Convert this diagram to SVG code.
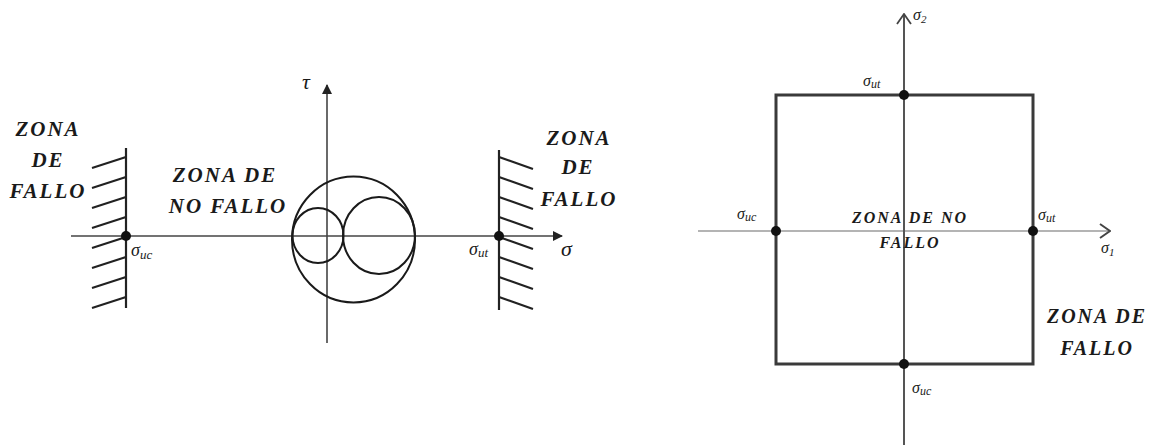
<svg xmlns="http://www.w3.org/2000/svg" width="1159" height="446" viewBox="0 0 1159 446">
<style>
.zone{font-family:"Liberation Serif",serif;font-style:italic;font-weight:bold;fill:#1a1a1a;text-anchor:middle;letter-spacing:2px}
.sym{font-family:"Liberation Serif",serif;font-style:italic;fill:#1a1a1a}
.ax{stroke:#444;stroke-width:1.6;fill:none}
.wall{stroke:#222;stroke-width:2.2;fill:none}
.circ{stroke:#1a1a1a;stroke-width:2;fill:none}
.rect{stroke:#3a3a3a;stroke-width:3;fill:none}
.dot{fill:#111}
</style>
<defs>
<marker id="fa" viewBox="0 0 10 10" refX="9" refY="5" markerWidth="10" markerHeight="10" markerUnits="userSpaceOnUse" orient="auto"><path d="M0,0 L10,5 L0,10 Z" fill="#222"/></marker>
<marker id="oa" viewBox="0 0 12 16" refX="11" refY="8" markerWidth="12" markerHeight="16" markerUnits="userSpaceOnUse" orient="auto"><path d="M1,1 L11,8 L1,15" fill="none" stroke="#444" stroke-width="1.8"/></marker>
<marker id="ob" viewBox="0 0 12 16" refX="11" refY="8" markerWidth="12" markerHeight="16" markerUnits="userSpaceOnUse" orient="auto"><path d="M1,1 L11,8 L1,15" fill="none" stroke="#444" stroke-width="2"/></marker>
</defs>

<g id="connectors">
<line class="ax" x1="71" y1="236" x2="562" y2="236" marker-end="url(#fa)"/>
<line class="ax" x1="327" y1="343" x2="327" y2="85" marker-end="url(#fa)"/>
<line x1="698" y1="231" x2="1110" y2="231" stroke="#b4b4b4" stroke-width="2" marker-end="url(#ob)"/>
<line x1="904" y1="445" x2="904" y2="14" stroke="#555" stroke-width="2" marker-end="url(#oa)"/>
</g>

<g id="left-wall">
<line class="wall" x1="126" y1="148" x2="126" y2="308"/>
<path class="wall" d="M92,168 L126,157 M92,188 L126,177 M92,208 L126,197 M92,228 L126,217 M92,248 L126,237 M92,268 L126,257 M92,288 L126,277 M92,308 L126,297"/>
<circle class="dot" cx="126" cy="236" r="5"/>
<text class="sym" x="131" y="256" font-size="18">σ<tspan font-size="13" dy="3">uc</tspan></text>
</g>

<g id="right-wall">
<line class="wall" x1="499" y1="150" x2="499" y2="310"/>
<path class="wall" d="M499,157 L533,169 M499,177 L533,189 M499,197 L533,209 M499,217 L533,229 M499,237 L533,249 M499,257 L533,269 M499,277 L533,289 M499,297 L533,309"/>
<circle class="dot" cx="499" cy="236" r="5"/>
<text class="sym" x="469" y="255" font-size="18">σ<tspan font-size="13" dy="2">ut</tspan></text>
</g>

<g id="mohr-circles">
<ellipse class="circ" cx="353.5" cy="239.5" rx="61.5" ry="63"/>
<ellipse class="circ" cx="318" cy="235.5" rx="25.5" ry="27.5"/>
<ellipse class="circ" cx="379" cy="235.5" rx="36" ry="38.5"/>
</g>

<g id="left-labels">
<text class="sym" x="302" y="89" font-size="22">τ</text>
<text class="sym" x="561" y="256" font-size="22">σ</text>
<text class="zone" x="48" y="136" font-size="21">ZONA</text>
<text class="zone" x="48" y="167" font-size="21">DE</text>
<text class="zone" x="48" y="198" font-size="21">FALLO</text>
<text class="zone" x="225" y="182" font-size="21">ZONA DE</text>
<text class="zone" x="228" y="213" font-size="21">NO FALLO</text>
<text class="zone" x="579" y="145" font-size="21">ZONA</text>
<text class="zone" x="578" y="174" font-size="21">DE</text>
<text class="zone" x="579" y="206" font-size="21">FALLO</text>
</g>

<g id="failure-square">
<rect class="rect" x="776" y="95" width="257" height="269"/>
<circle class="dot" cx="776" cy="231" r="5"/>
<circle class="dot" cx="1033" cy="231" r="5"/>
<circle class="dot" cx="904" cy="95" r="5"/>
<circle class="dot" cx="904" cy="364" r="5"/>
</g>

<g id="right-labels">
<text class="sym" x="913" y="20" font-size="16">σ<tspan font-size="11" dy="3">2</tspan></text>
<text class="sym" x="863" y="86" font-size="16">σ<tspan font-size="12" dy="2">ut</tspan></text>
<text class="sym" x="737" y="219" font-size="16">σ<tspan font-size="12" dy="2">uc</tspan></text>
<text class="sym" x="1038" y="220" font-size="16">σ<tspan font-size="12" dy="2">ut</tspan></text>
<text class="sym" x="1101" y="253" font-size="16">σ<tspan font-size="11" dy="3">1</tspan></text>
<text class="sym" x="912" y="393" font-size="16">σ<tspan font-size="12" dy="2">uc</tspan></text>
<text class="zone" x="910" y="223" font-size="16">ZONA DE NO</text>
<text class="zone" x="910" y="248" font-size="16">FALLO</text>
<text class="zone" x="1097" y="323" font-size="20">ZONA DE</text>
<text class="zone" x="1097" y="355" font-size="20">FALLO</text>
</g>
</svg>
